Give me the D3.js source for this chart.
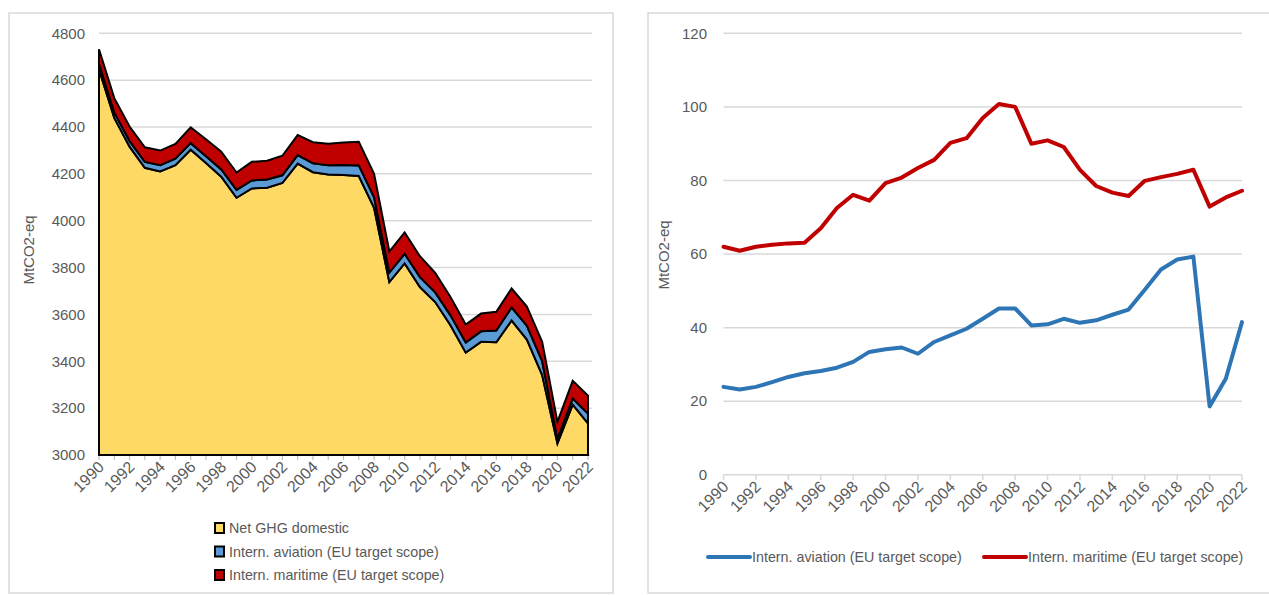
<!DOCTYPE html>
<html><head><meta charset="utf-8">
<script src="https://cdn.jsdelivr.net/npm/d3@7"></script>
<style>
html,body{margin:0;padding:0;background:#fff;}
svg text{font-family:"Liberation Sans Narrow","Arial Narrow","Liberation Sans",sans-serif;fill:#595959;}
</style></head><body>
<svg id="c" width="1269" height="595"></svg>
<script>
const years = [1990,1991,1992,1993,1994,1995,1996,1997,1998,1999,2000,2001,2002,2003,2004,2005,2006,2007,2008,2009,2010,2011,2012,2013,2014,2015,2016,2017,2018,2019,2020,2021,2022];
const domestic = [4646,4439,4316,4226,4210,4237,4303,4246,4188,4098,4138,4141,4161,4244,4207,4197,4195,4191,4055,3738,3818,3717,3653,3554,3437,3483,3481,3574,3493,3341,3050,3215,3135];
const aviation = [23.9,23.2,23.9,25.2,26.6,27.6,28.2,29.1,30.7,33.4,34.1,34.6,32.9,36.1,37.9,39.7,42.4,45.2,45.2,40.6,40.9,42.4,41.3,42.0,43.5,44.9,50.3,55.8,58.5,59.3,18.6,26.1,41.5];
const maritime = [62.0,60.9,62.0,62.5,62.9,63.1,67.0,72.5,76.1,74.5,79.3,80.8,83.4,85.6,90.2,91.5,97.0,100.8,100.0,90.0,90.9,89.1,82.9,78.5,76.7,75.8,79.9,80.9,81.8,82.9,72.9,75.4,77.2];
const leftTicks = [3000,3200,3400,3600,3800,4000,4200,4400,4600,4800];
const rightTicks = [0,20,40,60,80,100,120];
const xLabels = [1990,1992,1994,1996,1998,2000,2002,2004,2006,2008,2010,2012,2014,2016,2018,2020,2022];
const seriesNames = ["Net GHG domestic","Intern. aviation (EU target scope)","Intern. maritime (EU target scope)"];
const areaColors = ["#FFD966","#5B9BD5","#C00000"];
const lineColors = ["#2E75B6","#C00000"];
const yTitle = "MtCO2-eq";

const svg = d3.select("#c");
const FS = 15, LFS = 14.3, XFS = 16;

// panels
svg.append("rect").attr("x",9).attr("y",13).attr("width",604).attr("height",580).attr("fill","none").attr("stroke","#d9d9d9").attr("stroke-width",1.5);
svg.append("rect").attr("x",648).attr("y",13).attr("width",640).attr("height",580).attr("fill","none").attr("stroke","#d9d9d9").attr("stroke-width",1.5);

function xLabelsDraw(g, x, y0){
  g.selectAll("text.xl").data(xLabels).join("text").attr("class","xl")
    .attr("text-anchor","end")
    .attr("transform", d=>`translate(${x(d)+6},${y0+13}) rotate(-45)`)
    .attr("font-size",XFS).text(d=>d);
}

// ---------- LEFT ----------
{
  const x = d3.scaleLinear().domain([1990,2022]).range([99,588]);
  const y = d3.scaleLinear().domain([3000,4800]).range([455,33.3]);
  const g = svg.append("g");
  g.selectAll("line.grid").data(leftTicks.filter(d=>d>3000)).join("line")
    .attr("x1",99).attr("x2",592).attr("y1",d=>y(d)).attr("y2",d=>y(d))
    .attr("stroke","#d9d9d9").attr("stroke-width",1.5);
  g.selectAll("text.yl").data(leftTicks).join("text")
    .attr("x",85).attr("y",d=>y(d)).attr("dy","0.35em").attr("text-anchor","end")
    .attr("font-size",FS).text(d=>d);
  g.append("line").attr("x1",99).attr("x2",590).attr("y1",455).attr("y2",455).attr("stroke","#bfbfbf").attr("stroke-width",1.5);
  g.selectAll("line.tk").data(years).join("line")
    .attr("x1",d=>x(d)).attr("x2",d=>x(d)).attr("y1",455).attr("y2",460)
    .attr("stroke","#bfbfbf").attr("stroke-width",1.2);
  const rows = years.map((yr,i)=>({year:yr, d:domestic[i], a:aviation[i], m:maritime[i]}));
  const stack = d3.stack().keys(["d","a","m"]).value((r,k)=> k==="d" ? r.d-3000 : r[k]);
  const layers = stack(rows);
  const area = d3.area().x((p,i)=>x(years[i])).y0(p=>y(3000+p[0])).y1(p=>y(3000+p[1]));
  g.selectAll("path.ly").data(layers).join("path")
    .attr("d", area).attr("fill",(d,i)=>areaColors[i])
    .attr("stroke","#000").attr("stroke-width",2).attr("stroke-linejoin","miter");
  xLabelsDraw(g, x, 455);
  g.append("text").attr("transform","translate(34,250) rotate(-90)").attr("text-anchor","middle")
    .attr("font-size",FS).text(yTitle);
  const lg = g.append("g");
  seriesNames.forEach((n,i)=>{
    const cy = 528 + i*23.5;
    lg.append("rect").attr("x",215).attr("y",cy-5).attr("width",9).attr("height",10)
      .attr("fill",areaColors[i]).attr("stroke","#000").attr("stroke-width",2);
    lg.append("text").attr("x",229).attr("y",cy).attr("dy","0.35em").attr("font-size",LFS).text(n);
  });
}

// ---------- RIGHT ----------
{
  const x = d3.scaleLinear().domain([1990,2022]).range([723.5,1242]);
  const y = d3.scaleLinear().domain([0,120]).range([474.8,33.3]);
  const g = svg.append("g");
  g.selectAll("line.grid").data(rightTicks).join("line")
    .attr("x1",723.5).attr("x2",1242).attr("y1",d=>y(d)).attr("y2",d=>y(d))
    .attr("stroke","#d9d9d9").attr("stroke-width",1.5);
  g.selectAll("line.tk").data(xLabels).join("line")
    .attr("x1",d=>x(d)).attr("x2",d=>x(d)).attr("y1",474.8).attr("y2",480)
    .attr("stroke","#d9d9d9").attr("stroke-width",1.5);
  g.selectAll("text.yl").data(rightTicks).join("text")
    .attr("x",707).attr("y",d=>y(d)).attr("dy","0.35em").attr("text-anchor","end")
    .attr("font-size",FS).text(d=>d);
  const line = d3.line().x((v,i)=>x(years[i])).y(v=>y(v));
  [aviation, maritime].forEach((s,i)=>{
    g.append("path").attr("d",line(s)).attr("fill","none").attr("stroke",lineColors[i])
      .attr("stroke-width",4).attr("stroke-linejoin","round").attr("stroke-linecap","round");
  });
  xLabelsDraw(g, x, 474.8);
  g.append("text").attr("transform","translate(669,255) rotate(-90)").attr("text-anchor","middle")
    .attr("font-size",FS).text(yTitle);
  const lx = [708, 984];
  [1,2].forEach((k,i)=>{
    g.append("line").attr("x1",lx[i]).attr("x2",lx[i]+42).attr("y1",557).attr("y2",557)
      .attr("stroke",lineColors[i]).attr("stroke-width",4).attr("stroke-linecap","round");
    g.append("text").attr("x",lx[i]+44).attr("y",557).attr("dy","0.35em").attr("font-size",LFS).text(seriesNames[k]);
  });
}
</script></body></html>
